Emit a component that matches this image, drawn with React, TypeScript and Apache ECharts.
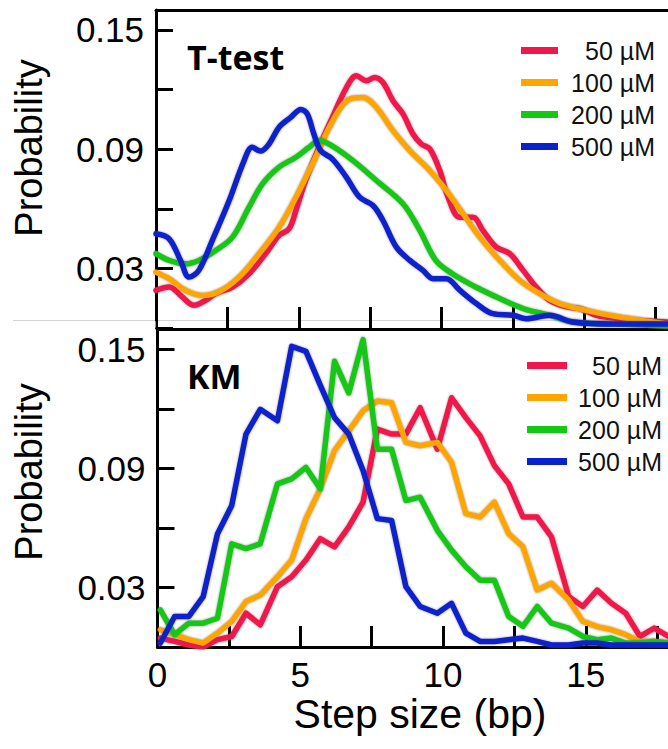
import React, { useEffect, useRef } from "react";
import * as echarts from "echarts";

const seriesNames = ["50 µM", "100 µM", "200 µM", "500 µM"];
const seriesColors = ["#f2174b", "#ffa500", "#14c814", "#0a22cc"];
const yTickLabels = [0.03, 0.09, 0.15];
const xTickLabels = [0, 5, 10, 15];

// ---- T-test panel (smooth curves) ----
const tt50X = [0, 0.46, 0.92, 1.33, 1.74, 2.09, 2.68, 3.26, 3.84, 4.31, 4.66, 4.9, 5.24, 5.71, 6.18, 6.67, 7.02, 7.37, 7.66, 7.95, 8.3, 8.65, 9.0, 9.29, 9.59, 9.94, 10.23, 10.64, 11.1, 11.45, 11.92, 12.39, 12.86, 13.32, 13.79, 14.37, 14.84, 15.42, 16.24, 17.9];
const tt50Y = [0.019, 0.0206, 0.0156, 0.0114, 0.0139, 0.0173, 0.0206, 0.0273, 0.0374, 0.0466, 0.0499, 0.0591, 0.0742, 0.0909, 0.106, 0.121, 0.1269, 0.1244, 0.126, 0.1235, 0.1143, 0.1077, 0.0976, 0.0926, 0.0901, 0.0792, 0.0658, 0.0557, 0.0557, 0.0491, 0.0407, 0.0374, 0.029, 0.0206, 0.0139, 0.0106, 0.0098, 0.0064, 0.0047, 0.003];

const tt100X = [0, 0.46, 1.03, 1.61, 2.19, 2.91, 3.61, 4.31, 4.9, 5.48, 6.18, 6.78, 7.25, 7.72, 8.3, 8.89, 9.59, 10.17, 10.76, 11.34, 12.04, 12.74, 13.44, 14.14, 15.07, 16.24, 17.4, 17.9];
const tt100Y = [0.0281, 0.0248, 0.019, 0.0164, 0.0181, 0.0256, 0.0374, 0.0507, 0.0658, 0.0826, 0.104, 0.1152, 0.116, 0.111, 0.0993, 0.0892, 0.0792, 0.0692, 0.0574, 0.0457, 0.034, 0.024, 0.0173, 0.0123, 0.0089, 0.0055, 0.003, 0.002];

const tt200X = [0, 0.46, 1.03, 1.5, 2.09, 2.68, 3.26, 3.73, 4.31, 4.9, 5.36, 5.71, 6.18, 6.9, 7.72, 8.65, 9.24, 9.8, 10.38, 11.2, 12.04, 12.86, 13.79, 14.6, 16, 17.9];
const tt200Y = [0.0374, 0.034, 0.0323, 0.034, 0.039, 0.0457, 0.0608, 0.0725, 0.0809, 0.0859, 0.0909, 0.0943, 0.0915, 0.0842, 0.0742, 0.0625, 0.0491, 0.034, 0.0273, 0.0206, 0.0148, 0.0098, 0.0064, 0.003, 0.002, 0.001];

const tt500X = [0, 0.46, 0.86, 1.16, 1.5, 1.97, 2.56, 3.08, 3.37, 3.66, 3.96, 4.31, 4.72, 5.07, 5.3, 5.53, 5.77, 6.18, 6.67, 7.13, 7.6, 7.95, 8.42, 8.89, 9.35, 9.7, 10.17, 10.64, 11.22, 11.8, 12.5, 12.97, 13.79, 14.6, 16, 17.9];
const tt500Y = [0.0474, 0.0449, 0.034, 0.0256, 0.029, 0.044, 0.064, 0.084, 0.0909, 0.089, 0.0926, 0.101, 0.106, 0.11, 0.1077, 0.0976, 0.0892, 0.085, 0.0758, 0.0658, 0.0616, 0.0541, 0.0407, 0.034, 0.029, 0.0248, 0.0248, 0.019, 0.0123, 0.0072, 0.0064, 0.0047, 0.0064, 0.003, 0.002, 0.002];

// ---- KM panel (histogram polylines) ----
const kmX = [0.1, 0.6, 1.1, 1.6, 2.1, 2.6, 3.1, 3.6, 4.2, 4.7, 5.2, 5.7, 6.2, 6.7, 7.2, 7.7, 8.2, 8.7, 9.2, 9.8, 10.3, 10.8, 11.3, 11.8, 12.3, 12.8, 13.3, 13.8, 14.4, 14.9, 15.4, 15.9, 16.4, 16.9, 17.4, 17.9];
const km50 = [0.0045, 0.0028, 0.001, 0.0, 0.0037, 0.0053, 0.017, 0.0112, 0.0304, 0.0354, 0.0438, 0.0546, 0.0505, 0.0605, 0.073, 0.1098, 0.1073, 0.1073, 0.1206, 0.0997, 0.1256, 0.1156, 0.1064, 0.0914, 0.0822, 0.0655, 0.0655, 0.0555, 0.0254, 0.0204, 0.0287, 0.022, 0.017, 0.0053, 0.0095, 0.0053];
const km100 = [0.0087, 0.0062, 0.0037, 0.002, 0.007, 0.0129, 0.0229, 0.0262, 0.0354, 0.0438, 0.0647, 0.0797, 0.099, 0.1089, 0.119, 0.124, 0.1231, 0.1031, 0.1014, 0.1031, 0.0931, 0.0672, 0.0655, 0.073, 0.0571, 0.0505, 0.0287, 0.0321, 0.0237, 0.0129, 0.0103, 0.0087, 0.0062, 0.0028, 0.0028, 0.002];
const km200 = [0.0187, 0.0062, 0.012, 0.012, 0.0145, 0.052, 0.0496, 0.052, 0.0822, 0.0847, 0.0905, 0.0797, 0.144, 0.128, 0.1549, 0.0997, 0.0997, 0.0738, 0.0755, 0.0588, 0.0488, 0.0404, 0.0337, 0.0337, 0.0154, 0.0104, 0.0204, 0.012, 0.0095, 0.0053, 0.0037, 0.0045, 0.002, 0.002, 0.0028, 0.002];
const km500 = [0.002, 0.0154, 0.0154, 0.0254, 0.057, 0.0713, 0.1073, 0.1198, 0.114, 0.1515, 0.149, 0.132, 0.1156, 0.1073, 0.0889, 0.0647, 0.0638, 0.0304, 0.0204, 0.017, 0.022, 0.007, 0.0028, 0.0028, 0.0037, 0.0045, 0.0028, 0.001, 0.001, 0.002, 0.002, 0.001, 0.001, 0.001, 0.001, 0.001];

const FONT = "Liberation Sans, Arial, sans-serif";
const BOLD_FONT = "Open Sans, Liberation Sans, sans-serif";

const pairs = (xs: number[], ys: number[]) => xs.map((x, i) => [x, ys[i]]);

function buildOption() {
  const ttData = [pairs(tt50X, tt50Y), pairs(tt100X, tt100Y), pairs(tt200X, tt200Y), pairs(tt500X, tt500Y)];
  const kmData = [km50, km100, km200, km500].map((ys) => pairs(kmX, ys));

  const lineStyle = (c: string) => ({
    width: 5.5,
    color: c,
    shadowColor: "rgba(70,70,70,0.6)",
    shadowBlur: 2,
    cap: "round",
    join: "round",
  });

  const series: any[] = [];
  seriesNames.forEach((name, i) => {
    series.push({
      name,
      type: "line",
      xAxisIndex: 0,
      yAxisIndex: 0,
      data: ttData[i],
      smooth: 0.35,
      showSymbol: false,
      symbol: "none",
      color: seriesColors[i],
      lineStyle: lineStyle(seriesColors[i]),
    });
  });
  seriesNames.forEach((name, i) => {
    series.push({
      name,
      type: "line",
      xAxisIndex: 2,
      yAxisIndex: 1,
      data: kmData[i],
      showSymbol: false,
      symbol: "none",
      color: seriesColors[i],
      lineStyle: lineStyle(seriesColors[i]),
    });
  });

  const yAxis = (gridIndex: number) => ({
    type: "value",
    gridIndex,
    min: 0,
    max: 0.16,
    interval: 0.03,
    axisLine: { show: true, lineStyle: { color: "#000", width: 3 } },
    axisTick: { show: true, inside: true, length: 17, lineStyle: { color: "#000", width: 3 } },
    axisLabel: {
      margin: 12,
      fontSize: 35,
      color: "#000",
      fontFamily: FONT,
      formatter: (v: number) => (yTickLabels.some((t) => Math.abs(t - v) < 1e-6) ? v.toFixed(2) : ""),
    },
    splitLine: { show: false },
  });

  const topLine = (gridIndex: number) => ({
    type: "value",
    gridIndex,
    position: "top",
    min: 0,
    max: 20,
    interval: 2.5,
    axisLine: { show: true, onZero: false, lineStyle: { color: "#000", width: 3 } },
    axisTick: { show: false },
    axisLabel: { show: false },
    splitLine: { show: false },
  });

  const legend = (left: number, top: number, iw: number, tw: number) => ({
    data: seriesNames,
    orient: "vertical",
    left,
    top,
    itemWidth: iw,
    itemHeight: 7,
    itemGap: 7,
    icon: "rect",
    selectedMode: false,
    formatter: (n: string) => `{t|${n}}`,
    textStyle: {
      rich: {
        t: { width: tw, align: "right", fontSize: 25, lineHeight: 24, fontFamily: FONT, color: "#111" },
      },
    },
  });

  return {
    animation: false,
    backgroundColor: "#fff",
    grid: [
      { left: 156, top: 10, width: 571, height: 318 },
      { left: 157.5, top: 329.5, width: 571, height: 317.5 },
    ],
    legend: [legend(516, 33, 37, 92), legend(522, 348, 40, 90)],
    xAxis: [
      {
        type: "value",
        gridIndex: 0,
        min: 0,
        max: 20,
        interval: 2.5,
        axisLine: { show: false, onZero: false },
        axisTick: { show: true, inside: true, length: 21, lineStyle: { color: "#000", width: 3 } },
        axisLabel: { show: false },
        splitLine: { show: false },
      },
      topLine(0),
      {
        type: "value",
        gridIndex: 1,
        min: 0,
        max: 20,
        interval: 2.5,
        name: "Step size (bp)",
        nameLocation: "middle",
        nameGap: 46,
        nameTextStyle: { fontSize: 41, color: "#000", fontFamily: FONT, padding: [0, 46, 0, 0] },
        axisLine: { show: true, onZero: false, lineStyle: { color: "#000", width: 3 } },
        axisTick: { show: true, inside: true, length: 21, lineStyle: { color: "#000", width: 3 } },
        axisLabel: {
          margin: 10,
          fontSize: 35,
          color: "#000",
          fontFamily: FONT,
          formatter: (v: number) => (xTickLabels.includes(v) ? String(v) : ""),
        },
        splitLine: { show: false },
      },
      topLine(1),
    ],
    yAxis: [yAxis(0), yAxis(1)],
    graphic: [
      {
        type: "line",
        z: 0,
        shape: { x1: 13, y1: 320.5, x2: 740, y2: 320.5 },
        style: { stroke: "#d4d4d4", lineWidth: 1 },
      },
      {
        type: "rect",
        z: 100,
        shape: { x: 150, y: 321.2, width: 5.6, height: 6.5 },
        style: { fill: "#fff" },
      },
      {
        type: "text",
        x: 29,
        y: 148,
        rotation: Math.PI / 2,
        style: {
          text: "Probability",
          fontSize: 38,
          fontFamily: FONT,
          fill: "#000",
          align: "center",
          verticalAlign: "middle",
          textAlign: "center",
          textVerticalAlign: "middle",
        },
      },
      {
        type: "text",
        x: 29,
        y: 472,
        rotation: Math.PI / 2,
        style: {
          text: "Probability",
          fontSize: 38,
          fontFamily: FONT,
          fill: "#000",
          align: "center",
          verticalAlign: "middle",
          textAlign: "center",
          textVerticalAlign: "middle",
        },
      },
      {
        type: "text",
        x: 187,
        y: 57,
        style: {
          text: "T-test",
          fontSize: 34,
          fontWeight: "bold",
          fontFamily: BOLD_FONT,
          fill: "#000",
          align: "left",
          verticalAlign: "middle",
          textAlign: "left",
          textVerticalAlign: "middle",
        },
      },
      {
        type: "text",
        x: 187,
        y: 376,
        style: {
          text: "KM",
          fontSize: 34,
          fontWeight: "bold",
          fontFamily: BOLD_FONT,
          fill: "#000",
          align: "left",
          verticalAlign: "middle",
          textAlign: "left",
          textVerticalAlign: "middle",
        },
      },
    ],
    series,
  };
}

export default function App() {
  const ref = useRef<HTMLDivElement>(null);
  useEffect(() => {
    if (!ref.current) return;
    const chart = echarts.init(ref.current, undefined, { renderer: "svg" });
    chart.setOption(buildOption() as any);
    return () => chart.dispose();
  }, []);
  return (
    <div
      style={{
        position: "absolute",
        left: 0,
        top: 0,
        width: 668,
        height: 749,
        overflow: "hidden",
        background: "#fff",
      }}
    >
      <div ref={ref} style={{ width: 740, height: 749 }} />
    </div>
  );
}
